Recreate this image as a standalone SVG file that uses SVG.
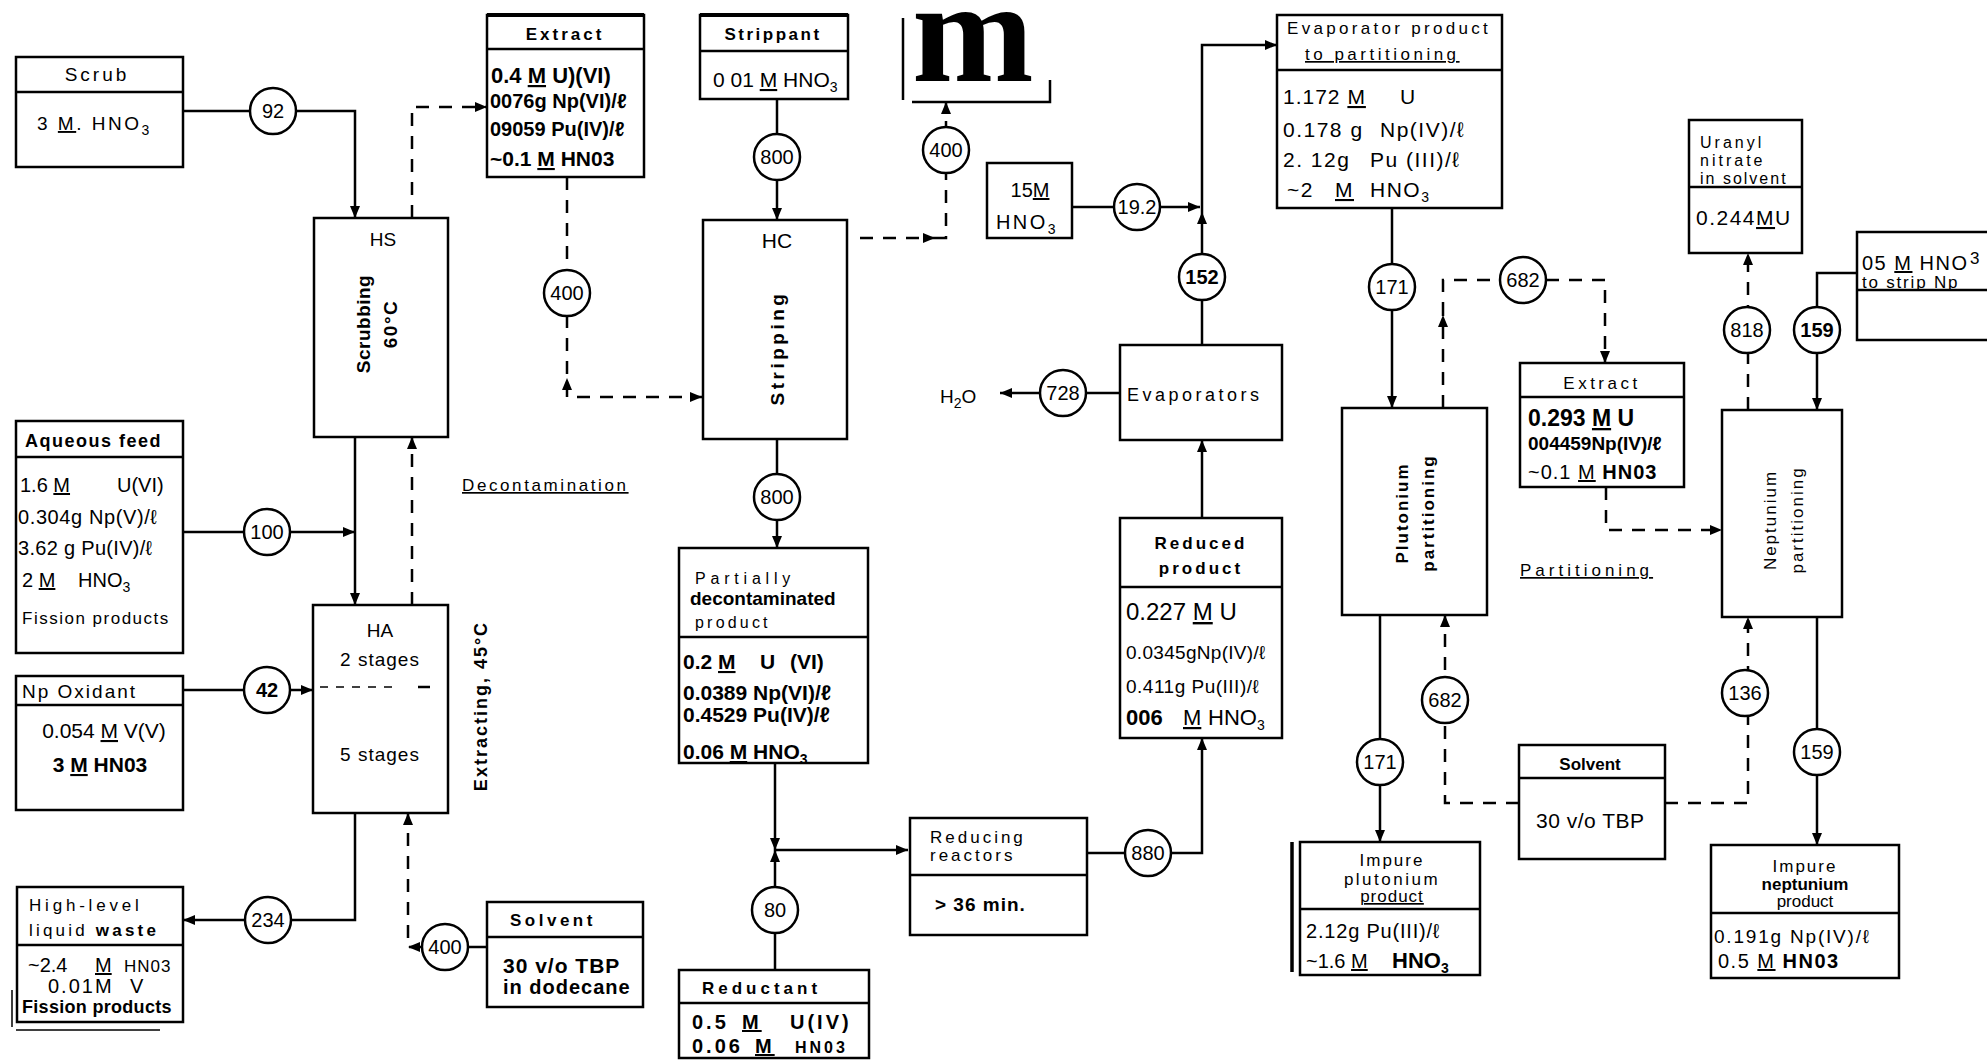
<svg xmlns="http://www.w3.org/2000/svg" width="1987" height="1061" viewBox="0 0 1987 1061">
<style>
.bx{fill:none;stroke:#000;stroke-width:2.5}
.dv{stroke:#000;stroke-width:2.5}
.ln{fill:none;stroke:#000;stroke-width:2.5}
.ds{stroke-dasharray:13 10}
.fc{fill:#fff;stroke:#000;stroke-width:2.5}
text{font-family:"Liberation Sans",Arial,sans-serif;font-size:19px;fill:#000}
.h{letter-spacing:2.5px}
.b{font-weight:bold}
.c{font-size:20px;text-anchor:middle}
.m{text-anchor:middle}
.u{text-decoration:underline}
.sub{font-size:14px}
.s17{font-size:17px}
.s16{font-size:16px}
.s20{font-size:20px}
.s21{font-size:21px}
</style>
<defs>
<marker id="ah" viewBox="0 0 12 10" refX="12" refY="5" markerWidth="12" markerHeight="10" markerUnits="userSpaceOnUse" orient="auto"><path d="M0,0 L12,5 L0,10 z" fill="#000"/></marker>
</defs>

<g id="connectors">
<path class="ln" d="M183,111 H355 V218" marker-end="url(#ah)"/>
<path class="ln ds" d="M412,218 V107 H487" marker-end="url(#ah)"/>
<path class="ln ds" d="M567,177 V397 H702" marker-end="url(#ah)"/>
<path d="M562,390 L567,378 L572,390 z" fill="#000"/>
<path class="ln" d="M777,99 V220" marker-end="url(#ah)"/>
<path class="ln ds" d="M860,238 H935" marker-end="url(#ah)"/>
<path class="ln ds" d="M935,238 H946 V102" marker-end="url(#ah)"/>
<path class="ln" d="M777,439 V548" marker-end="url(#ah)"/>
<path class="ln" d="M775,763 V850" marker-end="url(#ah)"/>
<path class="ln" d="M775,970 V850" marker-end="url(#ah)"/>
<path class="ln" d="M775,850 H908" marker-end="url(#ah)"/>
<path class="ln" d="M1087,853 H1202 V738" marker-end="url(#ah)"/>
<path class="ln" d="M1202,518 V440" marker-end="url(#ah)"/>
<path class="ln" d="M1120,393 H1000" marker-end="url(#ah)"/>
<path class="ln" d="M1202,345 V212" marker-end="url(#ah)"/>
<path class="ln" d="M1202,212 V45 H1277" marker-end="url(#ah)"/>
<path class="ln" d="M1072,207 H1200" marker-end="url(#ah)"/>
<path class="ln" d="M1392,208 V408" marker-end="url(#ah)"/>
<path class="ln ds" d="M1443,408 V315" marker-end="url(#ah)"/>
<path class="ln ds" d="M1443,315 V280 H1605 V363" marker-end="url(#ah)"/>
<path class="ln" d="M1380,615 V842" marker-end="url(#ah)"/>
<path class="ln ds" d="M1519,803 H1445 V615" marker-end="url(#ah)"/>
<path class="ln ds" d="M1665,803 H1748 V617" marker-end="url(#ah)"/>
<path class="ln ds" d="M1606,487 V530 H1722" marker-end="url(#ah)"/>
<path class="ln ds" d="M1748,410 V253" marker-end="url(#ah)"/>
<path class="ln" d="M1857,273 H1817 V410" marker-end="url(#ah)"/>
<path class="ln" d="M1817,617 V845" marker-end="url(#ah)"/>
<path class="ln" d="M183,532 H355" marker-end="url(#ah)"/>
<path class="ln" d="M355,437 V605" marker-end="url(#ah)"/>
<path class="ln ds" d="M412,605 V437" marker-end="url(#ah)"/>
<path class="ln" d="M183,690 H313" marker-end="url(#ah)"/>
<path class="ln" d="M355,813 V920 H183" marker-end="url(#ah)"/>
<path class="ln" d="M487,947 H445"/>
<path class="ln ds" d="M445,947 H408 V813" marker-end="url(#ah)"/>
<path d="M420,942 L408,947 L420,952 z" fill="#000"/>
</g>

<g id="flows">
<circle class="fc" cx="273" cy="111" r="23"/><text class="c" x="273" y="118">92</text>
<circle class="fc" cx="567" cy="293" r="23"/><text class="c" x="567" y="300">400</text>
<circle class="fc" cx="946" cy="150" r="23"/><text class="c" x="946" y="157">400</text>
<circle class="fc" cx="777" cy="157" r="23"/><text class="c" x="777" y="164">800</text>
<circle class="fc" cx="777" cy="497" r="23"/><text class="c" x="777" y="504">800</text>
<circle class="fc" cx="267" cy="532" r="23"/><text class="c" x="267" y="539">100</text>
<circle class="fc" cx="267" cy="690" r="23"/><text class="c b" x="267" y="697">42</text>
<circle class="fc" cx="268" cy="920" r="23"/><text class="c" x="268" y="927">234</text>
<circle class="fc" cx="445" cy="947" r="23"/><text class="c" x="445" y="954">400</text>
<circle class="fc" cx="775" cy="910" r="23"/><text class="c" x="775" y="917">80</text>
<circle class="fc" cx="1148" cy="853" r="23"/><text class="c" x="1148" y="860">880</text>
<circle class="fc" cx="1137" cy="207" r="23"/><text class="c" x="1137" y="214">19.2</text>
<circle class="fc" cx="1202" cy="277" r="23"/><text class="c b" x="1202" y="284">152</text>
<circle class="fc" cx="1063" cy="393" r="23"/><text class="c" x="1063" y="400">728</text>
<circle class="fc" cx="1392" cy="287" r="23"/><text class="c" x="1392" y="294">171</text>
<circle class="fc" cx="1380" cy="762" r="23"/><text class="c" x="1380" y="769">171</text>
<circle class="fc" cx="1523" cy="280" r="23"/><text class="c" x="1523" y="287">682</text>
<circle class="fc" cx="1445" cy="700" r="23"/><text class="c" x="1445" y="707">682</text>
<circle class="fc" cx="1747" cy="330" r="23"/><text class="c" x="1747" y="337">818</text>
<circle class="fc" cx="1817" cy="330" r="23"/><text class="c b" x="1817" y="337">159</text>
<circle class="fc" cx="1817" cy="752" r="23"/><text class="c" x="1817" y="759">159</text>
<circle class="fc" cx="1745" cy="693" r="23"/><text class="c" x="1745" y="700">136</text>
</g>

<g id="scrub">
<rect class="bx" x="16" y="57" width="167" height="110"/>
<line class="dv" x1="16" y1="92" x2="183" y2="92"/>
<text class="m h" x="97" y="81" style="letter-spacing:3px">Scrub</text>
<text x="37" y="130" class="h">3 <tspan class="u">M</tspan>. HNO<tspan class="sub" dy="5">3</tspan></text>
</g>

<g id="extract1">
<rect class="bx" x="487" y="15" width="157" height="162"/>
<line x1="487" y1="15" x2="644" y2="15" stroke="#000" stroke-width="4"/>
<line class="dv" x1="487" y1="49" x2="644" y2="49"/>
<text class="m h b s17" x="565" y="40" style="letter-spacing:3px">Extract</text>
<text class="b" x="491" y="83" style="font-size:22px">0.4 <tspan class="u">M</tspan> U)(VI)</text>
<text class="b s20" x="490" y="108">0076g Np(VI)/ℓ</text>
<text class="b s20" x="490" y="136">09059 Pu(IV)/ℓ</text>
<text class="b s21" x="490" y="166">~0.1 <tspan class="u">M</tspan> HN03</text>
</g>

<g id="strippant">
<rect class="bx" x="700" y="15" width="148" height="84"/>
<line x1="700" y1="15" x2="848" y2="15" stroke="#000" stroke-width="4"/>
<line class="dv" x1="700" y1="51" x2="848" y2="51"/>
<text class="m h b s17" x="773" y="40">Strippant</text>
<text class="s21" x="713" y="87">0 01 <tspan class="u">M</tspan> HNO<tspan class="sub" dy="5">3</tspan></text>
</g>

<g id="mbox">
<path class="ln" d="M903,18 V100 M912,102 H1050 V80"/>
<text x="912" y="81" style="font-family:'Liberation Serif','Times New Roman',serif;font-size:146px;font-weight:bold">m</text>
</g>

<g id="hs">
<rect class="bx" x="314" y="218" width="134" height="219"/>
<text class="m" x="383" y="246">HS</text>
<text class="m b" transform="translate(363,324) rotate(-90)" dy="7" style="letter-spacing:0.5px">Scrubbing</text>
<text class="m b" transform="translate(390,324) rotate(-90)" dy="7" style="letter-spacing:1.5px">60°C</text>
</g>

<g id="hc">
<rect class="bx" x="703" y="220" width="144" height="219"/>
<text class="m" x="777" y="248" style="font-size:21px">HC</text>
<text class="m b" transform="translate(777,348) rotate(-90)" dy="7" style="letter-spacing:3.5px">Stripping</text>
</g>

<g id="acid15">
<rect class="bx" x="987" y="163" width="85" height="75"/>
<text class="m s20" x="1030" y="197">15<tspan class="u">M</tspan></text>
<text class="m h s20" x="1027" y="229">HNO<tspan class="sub" dy="5">3</tspan></text>
</g>

<g id="evapproduct">
<rect class="bx" x="1277" y="15" width="225" height="193"/>
<line class="dv" x1="1277" y1="70" x2="1502" y2="70"/>
<text class="s17" x="1287" y="34" style="letter-spacing:3.3px">Evaporator product</text>
<text class="s17 u" x="1305" y="60" style="letter-spacing:3.5px">to partitioning</text>
<text class="s21" x="1283" y="104" style="letter-spacing:1px">1.172 <tspan class="u">M</tspan><tspan x="1400">U</tspan></text>
<text class="s21" x="1283" y="137" style="letter-spacing:1.5px">0.178 g <tspan x="1380">Np(IV)/ℓ</tspan></text>
<text class="s21" x="1283" y="167" style="letter-spacing:1.5px">2. 12g <tspan x="1370">Pu (III)/ℓ</tspan></text>
<text class="s21" x="1287" y="197" style="letter-spacing:1.5px">~2 <tspan x="1335" class="u">M</tspan><tspan x="1370">HNO</tspan><tspan class="sub" dy="5">3</tspan></text>
</g>

<g id="uranyl">
<rect class="bx" x="1689" y="120" width="113" height="133"/>
<line class="dv" x1="1689" y1="187" x2="1802" y2="187"/>
<text class="s16" x="1700" y="148" style="letter-spacing:3px">Uranyl</text>
<text class="s16" x="1700" y="166" style="letter-spacing:3px">nitrate</text>
<text class="s16" x="1700" y="184" style="letter-spacing:2px">in solvent</text>
<text class="s21" x="1696" y="225" style="letter-spacing:1.5px">0.244<tspan class="u">M</tspan>U</text>
</g>

<g id="stripnp">
<path class="ln" d="M1987,232 H1857 V340 H1987 M1857,290 H1987"/>
<text class="s20" x="1862" y="270" style="letter-spacing:1.5px">05 <tspan class="u">M</tspan> HNO</text>
<text class="s17" x="1970" y="264">3</text>
<text class="s17" x="1862" y="288" style="letter-spacing:1.8px">to strip Np</text>
</g>

<g id="evaporators">
<rect class="bx" x="1120" y="345" width="162" height="95"/>
<text x="1127" y="401" style="letter-spacing:3.5px;font-size:18px">Evaporators</text>
</g>
<g id="h2o">
<text x="940" y="403">H<tspan class="sub" dy="5">2</tspan><tspan dy="-5">O</tspan></text>
</g>

<g id="aqueous">
<rect class="bx" x="16" y="421" width="167" height="232"/>
<line class="dv" x1="16" y1="457" x2="183" y2="457"/>
<text class="b" x="25" y="447" style="letter-spacing:1.5px;font-size:18px">Aqueous feed</text>
<text class="s20" x="20" y="492">1.6 <tspan class="u">M</tspan><tspan x="117">U(VI)</tspan></text>
<text class="s20" x="18" y="524" style="letter-spacing:0.6px">0.304g Np(V)/ℓ</text>
<text class="s20" x="18" y="555" style="letter-spacing:0.3px">3.62 g Pu(IV)/ℓ</text>
<text class="s20" x="22" y="587">2 <tspan class="u">M</tspan><tspan x="78">HNO</tspan><tspan class="sub" dy="5">3</tspan></text>
<text class="s17" x="22" y="624" style="letter-spacing:1.5px">Fission products</text>
</g>

<g id="decon">
<text class="u s17" x="462" y="491" style="letter-spacing:2.6px">Decontamination</text>
</g>

<g id="ha">
<rect class="bx" x="313" y="605" width="135" height="208"/>
<text class="m" x="380" y="637">HA</text>
<text class="m" x="380" y="666" style="letter-spacing:1px">2 stages</text>
<path class="ln" d="M320,687 H398" stroke-dasharray="8 8" style="stroke-width:1.5"/>
<line x1="418" y1="687" x2="430" y2="687" stroke="#000" stroke-width="2.5"/>
<text class="m" x="380" y="761" style="letter-spacing:1px">5 stages</text>
<text class="m b" transform="translate(480,706) rotate(-90)" dy="7" style="letter-spacing:2px;font-size:18px">Extracting, 45°C</text>
</g>

<g id="npoxidant">
<rect class="bx" x="16" y="676" width="167" height="134"/>
<line class="dv" x1="16" y1="705" x2="183" y2="705"/>
<text x="22" y="698" style="letter-spacing:2px">Np Oxidant</text>
<text class="m s21" x="104" y="738">0.054 <tspan class="u">M</tspan> V(V)</text>
<text class="m b s21" x="100" y="772">3 <tspan class="u">M</tspan> HN03</text>
</g>

<g id="waste">
<rect class="bx" x="17" y="887" width="166" height="135"/>
<line class="dv" x1="17" y1="945" x2="183" y2="945"/>
<path class="ln" d="M12,990 V1027 M16,1030 H160" style="stroke-width:1.5"/>
<text class="s17" x="29" y="911" style="letter-spacing:3.8px">High-level</text>
<text class="s17" x="29" y="936" style="letter-spacing:3.2px">liquid <tspan class="b">waste</tspan></text>
<text class="s20" x="28" y="972">~2.4 <tspan x="95" class="u">M</tspan><tspan x="124" class="s17" style="letter-spacing:1px">HN03</tspan></text>
<text class="s20" x="48" y="993" style="letter-spacing:2px">0.01M<tspan x="130">V</tspan></text>
<text class="b" x="22" y="1013" style="font-size:18px;letter-spacing:0.3px">Fission products</text>
</g>

<g id="solvent1">
<rect class="bx" x="487" y="902" width="156" height="105"/>
<line class="dv" x1="487" y1="937" x2="643" y2="937"/>
<text class="b s17" x="510" y="926" style="letter-spacing:3.5px">Solvent</text>
<text class="b s21" x="503" y="973" style="letter-spacing:1px">30 v/o TBP</text>
<text class="b s20" x="503" y="994" style="letter-spacing:1px">in dodecane</text>
</g>

<g id="partially">
<rect class="bx" x="679" y="548" width="189" height="215"/>
<line class="dv" x1="679" y1="637" x2="868" y2="637"/>
<text class="s16" x="695" y="584" style="letter-spacing:4.8px">Partially</text>
<text class="b" x="690" y="605">decontaminated</text>
<text class="s16" x="695" y="628" style="letter-spacing:3.2px">product</text>
<text class="b s21" x="683" y="669">0.2 <tspan class="u">M</tspan><tspan x="760">U</tspan><tspan x="790">(VI)</tspan></text>
<text class="b s21" x="683" y="700">0.0389 Np(VI)/ℓ</text>
<text class="b s21" x="683" y="722">0.4529 Pu(IV)/ℓ</text>
<text class="b s21" x="683" y="759">0.06 <tspan class="u">M</tspan> HNO<tspan class="sub" dy="5">3</tspan></text>
</g>

<g id="reductant">
<rect class="bx" x="679" y="970" width="190" height="88"/>
<line class="dv" x1="679" y1="1003" x2="869" y2="1003"/>
<text class="b s17" x="702" y="994" style="letter-spacing:4px">Reductant</text>
<text class="b s20" x="692" y="1029" style="letter-spacing:3px">0.5 <tspan x="742" class="u">M</tspan><tspan x="790">U(IV)</tspan></text>
<text class="b s20" x="692" y="1053" style="letter-spacing:3px">0.06 <tspan x="755" class="u">M</tspan><tspan x="795" class="s16">HN03</tspan></text>
</g>

<g id="reducing">
<rect class="bx" x="910" y="818" width="177" height="117"/>
<line class="dv" x1="910" y1="875" x2="1087" y2="875"/>
<text class="s17" x="930" y="843" style="letter-spacing:3px">Reducing</text>
<text class="s17" x="930" y="861" style="letter-spacing:3px">reactors</text>
<text class="b" x="935" y="911" style="letter-spacing:1px">&gt; 36 min.</text>
</g>

<g id="reduced">
<rect class="bx" x="1120" y="518" width="162" height="220"/>
<line class="dv" x1="1120" y1="587" x2="1282" y2="587"/>
<text class="m s17 b" x="1201" y="549" style="letter-spacing:3px">Reduced</text>
<text class="m s17 b" x="1201" y="574" style="letter-spacing:3px">product</text>
<text x="1126" y="620" style="font-size:24px">0.227 <tspan class="u">M</tspan> U</text>
<text x="1126" y="659" style="letter-spacing:0.3px">0.0345gNp(IV)/ℓ</text>
<text x="1126" y="693" style="letter-spacing:0.5px">0.411g Pu(III)/ℓ</text>
<text x="1126" y="725" style="font-size:22px"><tspan class="b">006</tspan><tspan x="1183" class="u">M</tspan><tspan x="1208">HNO</tspan><tspan class="sub" dy="5">3</tspan></text>
</g>

<g id="puPartition">
<rect class="bx" x="1342" y="408" width="145" height="207"/>
<text class="m b s17" transform="translate(1402,513) rotate(-90)" dy="6" style="letter-spacing:2px">Plutonium</text>
<text class="m b s17" transform="translate(1428,513) rotate(-90)" dy="6" style="letter-spacing:2px">partitioning</text>
</g>

<g id="extract2">
<rect class="bx" x="1520" y="363" width="164" height="124"/>
<line class="dv" x1="1520" y1="397" x2="1684" y2="397"/>
<text class="m s17" x="1602" y="389" style="letter-spacing:3.5px">Extract</text>
<text class="b" x="1528" y="426" style="font-size:23px">0.293 <tspan class="u">M</tspan> U</text>
<text class="b" x="1528" y="450">004459Np(IV)/ℓ</text>
<text class="s20" x="1528" y="479" style="letter-spacing:1px">~0.1 <tspan class="u">M</tspan> <tspan class="b">HN03</tspan></text>
</g>

<g id="partitioningLabel">
<text class="u s17" x="1520" y="576" style="letter-spacing:4px">Partitioning</text>
</g>

<g id="npPartition">
<rect class="bx" x="1722" y="410" width="120" height="207"/>
<text class="m s17" transform="translate(1770,520) rotate(-90)" dy="6" style="letter-spacing:2px">Neptunium</text>
<text class="m s17" transform="translate(1797,520) rotate(-90)" dy="6" style="letter-spacing:2px">partitioning</text>
</g>

<g id="impurePu">
<rect class="bx" x="1300" y="842" width="180" height="133"/>
<line class="dv" x1="1300" y1="909" x2="1480" y2="909"/>
<line x1="1292" y1="842" x2="1292" y2="972" stroke="#000" stroke-width="3.5"/>
<text class="m s17" x="1392" y="866" style="letter-spacing:2px">Impure</text>
<text class="m s17" x="1392" y="885" style="letter-spacing:2.5px">plutonium</text>
<text class="m s17 u" x="1392" y="902" style="letter-spacing:1px">product</text>
<text class="s20" x="1306" y="938" style="letter-spacing:0.8px">2.12g Pu(III)/ℓ</text>
<text class="s20" x="1306" y="968">~1.6 <tspan class="u">M</tspan><tspan x="1392" class="b" style="font-size:22px">HNO</tspan><tspan class="sub b" dy="5">3</tspan></text>
</g>

<g id="solvent2">
<rect class="bx" x="1519" y="745" width="146" height="114"/>
<line class="dv" x1="1519" y1="778" x2="1665" y2="778"/>
<text class="m b s17" x="1590" y="770">Solvent</text>
<text class="s21" x="1536" y="828" style="letter-spacing:0.5px">30 v/o TBP</text>
</g>

<g id="impureNp">
<rect class="bx" x="1711" y="845" width="188" height="133"/>
<line class="dv" x1="1711" y1="913" x2="1899" y2="913"/>
<text class="m s17" x="1805" y="872" style="letter-spacing:2px">Impure</text>
<text class="m s17 b" x="1805" y="890">neptunium</text>
<text class="m s17" x="1805" y="907">product</text>
<text x="1714" y="943" style="letter-spacing:1.8px">0.191g Np(IV)/ℓ</text>
<text class="s20" x="1718" y="968" style="letter-spacing:1.5px">0.5 <tspan class="u">M</tspan> <tspan class="b">HN03</tspan></text>
</g>
</svg>
